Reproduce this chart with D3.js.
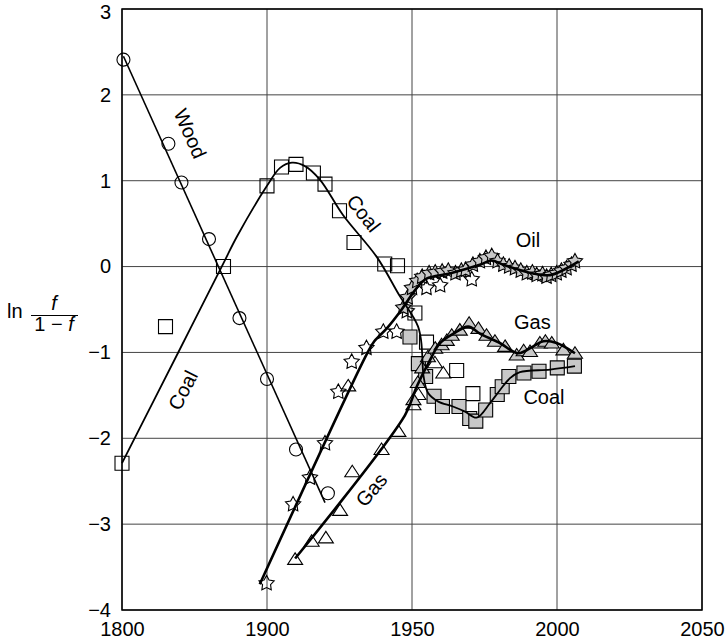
<!DOCTYPE html>
<html>
<head>
<meta charset="utf-8">
<script src="https://cdnjs.cloudflare.com/ajax/libs/d3/7.8.5/d3.min.js"></script>
<style>
  body { margin: 0; background: #fff; }
  text { font-family: "Liberation Sans", Arial, sans-serif; fill: #000; }
</style>
</head>
<body>
<div id="chart"></div>
<script>
// tick labels
const xTicks = [1800, 1900, 1950, 2000, 2050];
const yTicks = [-4, -3, -2, -1, 0, 1, 2, 3];

// wood (open circles) + fitted line
const woodYears = [1801, 1832, 1841, 1860, 1881, 1900, 1910, 1921];
const woodValues = [2.41, 1.43, 0.98, 0.32, -0.60, -1.31, -2.13, -2.64];
const woodFitYears = [1801, 1920];
const woodFitValues = [2.45, -2.75];

// coal, older source (open squares)
const coalOpenYears = [1800, 1830, 1870, 1900, 1905, 1910, 1916, 1920, 1925, 1930, 1940.6, 1945, 1951, 1955, 1965.4, 1971];
const coalOpenValues = [-2.29, -0.70, 0.00, 0.94, 1.16, 1.19, 1.09, 0.96, 0.65, 0.28, 0.03, 0.01, -0.54, -0.88, -1.21, -1.48];
// coal, newer source (grey squares)
const coalYears = [1949.3, 1952.2, 1954.7, 1957.6, 1960.5, 1966.2, 1969.9, 1972, 1975.4, 1979.4, 1981.1, 1983.4, 1988.6, 1993.8, 2000.1, 2006];
const coalValues = [-0.82, -1.13, -1.28, -1.51, -1.63, -1.63, -1.77, -1.80, -1.67, -1.49, -1.40, -1.28, -1.24, -1.22, -1.18, -1.16];
const coalFitYears = [1800, 1840, 1870, 1879.3, 1900, 1904.5, 1908.6, 1913.1, 1918.3, 1926.2, 1937.9, 1945.9, 1950.3, 1952.1, 1953.1, 1953.5, 1954, 1955.5, 1958.9, 1964.1, 1968.3, 1972.3, 1976.9, 1980.3, 1983.8, 1987.2, 1997.6, 2006.2];
const coalFitValues = [-2.29, -0.96, 0.04, 0.35, 0.94, 1.15, 1.21, 1.17, 1.01, 0.60, 0.11, -0.35, -0.58, -0.70, -0.85, -1.01, -1.28, -1.47, -1.57, -1.63, -1.69, -1.76, -1.59, -1.44, -1.30, -1.23, -1.20, -1.16];

// oil (stars)
const oilOpenYears = [1899.7, 1909, 1914.8, 1920, 1924.6, 1929.2, 1934.3, 1940.1, 1944.7, 1948.2, 1955, 1959.7, 1970.6];
const oilOpenValues = [-3.69, -2.77, -2.46, -2.06, -1.46, -1.11, -0.95, -0.76, -0.76, -0.52, -0.25, -0.22, -0.15];
const oilYears = [1947, 1948.5, 1950, 1951.8, 1953.5, 1955.9, 1958, 1960.4, 1962.5, 1965, 1967, 1968.5, 1971, 1973.4, 1975.5, 1977.5, 1979.5, 1981.5, 1983.5, 1985.5, 1987.5, 1989.6, 1991.5, 1993, 1995, 1996.4, 1998, 1999.9, 2001.5, 2003.3, 2005, 2006.2];
const oilValues = [-0.48, -0.36, -0.25, -0.17, -0.12, -0.08, -0.07, -0.06, -0.05, -0.08, -0.05, -0.04, 0.02, 0.06, 0.10, 0.12, 0.06, 0.02, 0.00, -0.02, -0.05, -0.08, -0.07, -0.10, -0.09, -0.12, -0.10, -0.08, -0.05, -0.02, 0.02, 0.06];
const oilFitYears = [1895, 1934.4, 1937, 1941.3, 1946, 1951.6, 1955, 1963, 1973.4, 1977.5, 1981.5, 1991.8, 1997.6, 2002.2, 2007.5];
const oilFitValues = [-3.70, -1.02, -0.87, -0.72, -0.52, -0.25, -0.14, -0.08, 0.02, 0.07, 0.02, -0.08, -0.10, -0.04, 0.06];

// gas (triangles)
const gasOpenYears = [1909.7, 1915.4, 1920.3, 1925.2, 1928, 1929.4, 1939.5, 1945.3, 1950.5, 1952.2, 1957.9, 1960.8];
const gasOpenValues = [-3.41, -3.20, -3.16, -2.84, -1.39, -2.39, -2.13, -1.92, -1.61, -1.49, -1.12, -1.24];
const gasYears = [1950.5, 1952, 1953.5, 1955.5, 1958, 1960.2, 1962, 1963.7, 1966.5, 1969.7, 1972.9, 1975.7, 1978.6, 1982.1, 1986.1, 1988.5, 1990.7, 1994.1, 1996, 1998.2, 2002.2, 2006.2];
const gasValues = [-1.55, -1.35, -1.18, -1.05, -0.95, -0.91, -0.86, -0.80, -0.74, -0.66, -0.72, -0.80, -0.87, -0.93, -1.03, -0.98, -0.99, -0.89, -0.87, -0.89, -0.97, -1.01];
const gasFitYears = [1909.7, 1947.6, 1951.6, 1956.2, 1959.7, 1964.3, 1969.4, 1973.4, 1980.3, 1986.6, 1991.8, 1995.3, 1999.9, 2006.2];
const gasFitValues = [-3.40, -1.73, -1.40, -1.09, -0.89, -0.78, -0.70, -0.78, -0.89, -1.01, -0.93, -0.87, -0.89, -1.01];

const zip = (xs, ys) => xs.map((d, i) => [d, ys[i]]);

var margin = {top: 9, right: 26, bottom: 32, left: 122},
    width = 728 - margin.left - margin.right,
    height = 642 - margin.top - margin.bottom;

var svg = d3.select("#chart")
  .append("svg")
  .attr("width", 728)
  .attr("height", 642)
  .append("g")
  .attr("transform", "translate(" + margin.left + "," + margin.top + ")");

// 1800-1900 is squeezed into the same width as 50 years
const x = d3.scaleLinear().domain([1800, 1900, 2050]).range([0, 145, width]);
const y = d3.scaleLinear().domain([-4, 3]).range([height, 0]);

// grid
svg.append("g").selectAll("line").data(xTicks).join("line")
  .attr("x1", d => x(d)).attr("x2", d => x(d))
  .attr("y1", 0).attr("y2", height)
  .attr("stroke", "#444").attr("stroke-width", 1);
svg.append("g").selectAll("line").data(yTicks).join("line")
  .attr("x1", 0).attr("x2", width)
  .attr("y1", d => y(d)).attr("y2", d => y(d))
  .attr("stroke", "#444").attr("stroke-width", 1);

// axes (labels only)
const xAxis = svg.append("g")
  .attr("transform", `translate(0,${height})`)
  .call(d3.axisBottom(x).tickValues(xTicks).tickSize(0).tickPadding(12).tickFormat(d3.format("d")));
const yAxis = svg.append("g")
  .call(d3.axisLeft(y).tickValues(yTicks).tickSize(0).tickPadding(11).tickFormat(d3.format("d")));
[xAxis, yAxis].forEach(a => {
  a.select(".domain").remove();
  a.selectAll("text").style("font-size", "20px").attr("font-family", null);
});
// keep the top label inside the page
yAxis.selectAll("text").filter(d => d === 3).attr("dy", "0.45em");

svg.append("rect")
  .attr("width", width).attr("height", height)
  .attr("fill", "none").attr("stroke", "#000").attr("stroke-width", 1.5);

// marker shapes
function starPath(r0, r1) {
  let p = [];
  for (let i = 0; i < 10; i++) {
    const a = -Math.PI / 2 + i * Math.PI / 5;
    const r = i % 2 ? r1 : r0;
    p.push([r * Math.cos(a), r * Math.sin(a)]);
  }
  return "M" + p.map(q => q.join(",")).join("L") + "Z";
}
const tri = "M0,-6.5L7.5,5L-7.5,5Z";
const sq = "M-7,-7H7V7H-7Z";
const star = starPath(8, 4.2);

function markers(xs, ys, kind, fill) {
  const g = svg.append("g");
  const pts = zip(xs, ys);
  if (kind === "circle") {
    g.selectAll("circle").data(pts).join("circle")
      .attr("cx", d => x(d[0])).attr("cy", d => y(d[1])).attr("r", 6.5)
      .attr("fill", fill).attr("stroke", "#000").attr("stroke-width", 1.1);
  } else {
    g.selectAll("path").data(pts).join("path")
      .attr("transform", d => `translate(${x(d[0])},${y(d[1])})`)
      .attr("d", kind)
      .attr("fill", fill).attr("stroke", "#000").attr("stroke-width", 1.1)
      .attr("stroke-linejoin", "miter");
  }
}

markers(woodYears, woodValues, "circle", "none");
markers(coalOpenYears, coalOpenValues, sq, "none");
markers(coalYears, coalValues, sq, "#c8c8c8");
markers(oilOpenYears, oilOpenValues, star, "none");
markers(oilYears, oilValues, star, "#c8c8c8");
markers(gasOpenYears, gasOpenValues, tri, "none");
markers(gasYears, gasValues, tri, "#c8c8c8");

// fitted curves
const line = d3.line().x(d => x(d[0])).y(d => y(d[1]));
function fit(xs, ys, w, curve) {
  svg.append("path")
    .datum(zip(xs, ys))
    .attr("fill", "none").attr("stroke", "#000").attr("stroke-width", w)
    .attr("stroke-linejoin", "round")
    .attr("d", line.curve(curve)(zip(xs, ys)));
}
fit(woodFitYears, woodFitValues, 1.6, d3.curveLinear);
fit(coalFitYears, coalFitValues, 1.8, d3.curveCatmullRom);
fit(oilFitYears, oilFitValues, 2.6, d3.curveCatmullRom);
fit(gasFitYears, gasFitValues, 2.6, d3.curveCatmullRom);

// series labels
const labels = [
  {text: "Wood", x: 1847, y: 1.55, r: 66},
  {text: "Coal", x: 1933.3, y: 0.62, r: 52},
  {text: "Coal", x: 1842, y: -1.44, r: -63},
  {text: "Oil", x: 1990, y: 0.31, r: 0},
  {text: "Gas", x: 1991.5, y: -0.65, r: 0},
  {text: "Coal", x: 1995.5, y: -1.52, r: 0},
  {text: "Gas", x: 1936, y: -2.60, r: -50}
];
labels.forEach(l => {
  svg.append("text")
    .attr("transform", `translate(${x(l.x)},${y(l.y)}) rotate(${l.r})`)
    .attr("text-anchor", "middle")
    .attr("dominant-baseline", "central")
    .style("font-size", "20px")
    .text(l.text);
});

// y axis title: ln f/(1-f)
const t = d3.select("svg").append("g");
t.append("text").attr("x", 7).attr("y", 318).style("font-size", "20px").text("ln");
t.append("text").attr("x", 54).attr("y", 310).attr("text-anchor", "middle")
  .style("font-size", "20px").style("font-style", "italic").text("f");
t.append("line").attr("x1", 31).attr("x2", 78).attr("y1", 315.5).attr("y2", 315.5)
  .attr("stroke", "#000").attr("stroke-width", 1.2);
const den = t.append("text").attr("x", 54).attr("y", 331).attr("text-anchor", "middle").style("font-size", "20px");
den.append("tspan").text("1 \u2212 ");
den.append("tspan").style("font-style", "italic").text("f");
</script>
</body>
</html>
